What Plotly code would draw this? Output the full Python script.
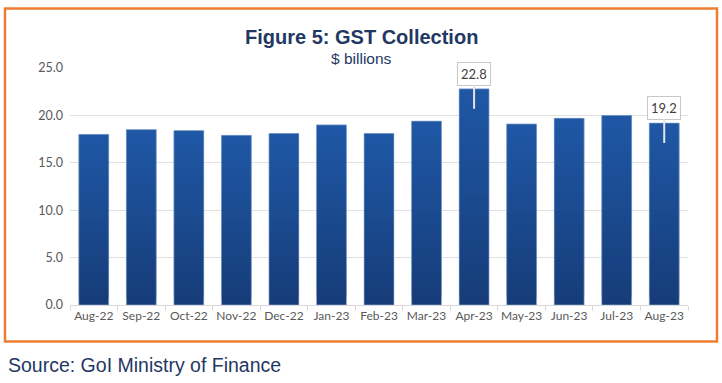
import plotly.graph_objects as go

months = ["Aug-22", "Sep-22", "Oct-22", "Nov-22", "Dec-22", "Jan-23", "Feb-23",
          "Mar-23", "Apr-23", "May-23", "Jun-23", "Jul-23", "Aug-23"]
gst = [18.0, 18.5, 18.4, 17.9, 18.1, 19.0, 18.1, 19.4, 22.8, 19.1, 19.7, 20.0, 19.2]
labelled = ["Apr-23", "Aug-23"]
y_ticks = [0, 5, 10, 15, 20, 25]

TOP = (31, 88, 166)
BOT = (22, 60, 120)
N = 24

fig = go.Figure()
# gradient fill via overlapping slices (bottom first, upper slices cover seams)
for i in range(N):
    f = (i + 0.5) / N
    c = tuple(round(BOT[k] + (TOP[k] - BOT[k]) * f) for k in range(3))
    span = min(2, N - i) / N
    fig.add_trace(go.Bar(
        x=months,
        y=[v * span for v in gst],
        base=[v * i / N for v in gst],
        marker=dict(color="rgb(%d,%d,%d)" % c, line=dict(width=0)),
        hoverinfo="skip", showlegend=False,
    ))
# outline
fig.add_trace(go.Bar(
    x=months, y=gst,
    marker=dict(color="rgba(0,0,0,0)", line=dict(color="#9db5da", width=0.6)),
    showlegend=False,
))

for m, v in zip(months, gst):
    if m in labelled:
        fig.add_annotation(
            x=m, y=v, yshift=-20, ax=0, ay=-35,
            text="%.1f" % v, showarrow=True, arrowhead=0, arrowwidth=2,
            arrowcolor="#e4e4e4",
            font=dict(family="Lato", size=13, color="#404040"),
            bgcolor="white", bordercolor="#c8c8c8", borderwidth=1, borderpad=3,
        )

W, H = 722, 383
L, R, T, B = 70, 34, 68, 78
pw, ph = W - L - R, H - T - B
def px(x):
    return (x - L) / pw
def py(y):
    return (H - B - y) / ph

fig.add_shape(type="rect", xref="paper", yref="paper",
              x0=px(5), x1=px(717), y0=py(341.5), y1=py(8.5),
              line=dict(color="#ED7D31", width=2.5), fillcolor="rgba(0,0,0,0)", layer="below")

fig.add_annotation(xref="paper", yref="paper", x=px(361.5), y=py(37), showarrow=False,
                   text="<b>Figure 5: GST Collection</b>", xanchor="center", yanchor="middle",
                   font=dict(family="Liberation Sans", size=20, color="#1F3864"))
fig.add_annotation(xref="paper", yref="paper", x=px(361.5), y=py(58), showarrow=False,
                   text="$ billions", xanchor="center", yanchor="middle",
                   font=dict(family="Liberation Sans", size=15.5, color="#1F3864"))
fig.add_annotation(xref="paper", yref="paper", x=px(6), y=py(365), showarrow=False,
                   text="Source: GoI Ministry of Finance", xanchor="left", yanchor="middle",
                   font=dict(family="Liberation Sans", size=19.5, color="#1F3864"))

fig.update_layout(
    width=W, height=H,
    margin=dict(l=L, r=R, t=T, b=B),
    paper_bgcolor="white", plot_bgcolor="white",
    barmode="overlay", bargap=0.37,
    showlegend=False,
    xaxis=dict(
        type="category", tickson="boundaries", ticks="outside", ticklen=5,
        tickcolor="#d9d9d9", showline=True, linecolor="#d9d9d9", linewidth=1,
        showgrid=False, tickangle=0, automargin=False,
        tickfont=dict(family="Lato", size=12, color="#595959"),
    ),
    yaxis=dict(
        range=[0, 25], tickvals=y_ticks, ticktext=["%.1f" % t for t in y_ticks],
        showgrid=True, gridcolor="#e0e0e0", gridwidth=1, automargin=False,
        zeroline=False, showline=False, ticks="", ticklabelstandoff=6,
        tickfont=dict(family="Lato", size=12.5, color="#595959"),
    ),
)

fig.write_html("out.html", config={"displayModeBar": False},
               post_script="document.body.style.margin='0';document.body.style.overflow='hidden';")
